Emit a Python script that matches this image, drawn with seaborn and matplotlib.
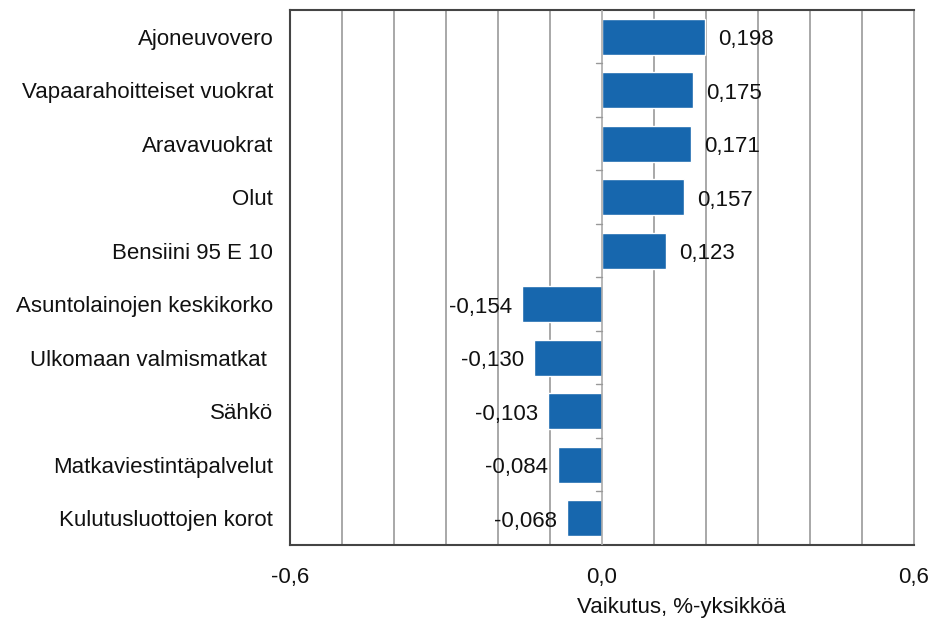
import matplotlib
matplotlib.use("Agg")
import matplotlib.pyplot as plt
import seaborn as sns
import pandas as pd
import numpy as np

categories = ["Ajoneuvovero", "Vapaarahoitteiset vuokrat", "Aravavuokrat", "Olut",
              "Bensiini 95 E 10", "Asuntolainojen keskikorko", "Ulkomaan valmismatkat ",
              "Sähkö", "Matkaviestintäpalvelut", "Kulutusluottojen korot"]
values = [0.198, 0.175, 0.171, 0.157, 0.123, -0.154, -0.130, -0.103, -0.084, -0.068]
xticks = [-0.6, 0.0, 0.6]
xticklabels = ["-0,6", "0,0", "0,6"]
xlabel = "Vaikutus, %-yksikköä"

sns.set_theme(style="white")
plt.rcParams['font.family'] = ['Liberation Sans', 'DejaVu Sans']

df = pd.DataFrame({"cat": categories, "val": values})

fig = plt.figure(figsize=(9.33, 6.23), dpi=100)
ax = fig.add_axes([290/933, 78/623, 624/933, 535/623])

sns.barplot(data=df, y="cat", x="val", orient="h", color="#1767AE", width=0.67,
            saturation=1, ax=ax, zorder=3)

ax.set_xlim(-0.6, 0.6)
ax.set_ylim(len(categories) - 0.5, -0.5)

# vertical gridlines every 0.1
for g in np.arange(-0.5, 0.6, 0.1):
    if abs(g) < 1e-9:
        continue
    ax.axvline(g, color="#999999", lw=1.2, zorder=1)
ax.axvline(0, color="#AAAAAA", lw=1.2, zorder=4)

# category boundary tick marks at zero
for b in np.arange(0.5, len(categories) - 0.5, 1.0):
    ax.plot([-0.012, 0], [b, b], color="#999999", lw=1, zorder=4, clip_on=False)

ax.set_xticks(xticks)
ax.set_xticklabels(xticklabels, fontsize=16, color="#111111")
ax.tick_params(axis="x", length=6, width=1.2, color="#333333", pad=10, direction="out")
ax.tick_params(axis="y", length=0, pad=12, labelsize=16, labelcolor="#111111")
ax.set_ylabel("")
ax.set_xlabel(xlabel, fontsize=16, color="#111111")
ax.xaxis.set_label_coords(0.628, -0.098)

for side in ["left", "bottom", "top"]:
    ax.spines[side].set_color("#444444")
    ax.spines[side].set_linewidth(1.5)
ax.spines["right"].set_color("#999999")
ax.spines["right"].set_linewidth(1.2)

for i, v in enumerate(values):
    txt = f"{v:.3f}".replace(".", ",")
    if v >= 0:
        ax.annotate(txt, (v, i), xytext=(13, -3), textcoords="offset pixels",
                    ha="left", va="center", fontsize=16, color="#111111", zorder=5)
    else:
        ax.annotate(txt, (v, i), xytext=(-10, -3), textcoords="offset pixels",
                    ha="right", va="center", fontsize=16, color="#111111", zorder=5)

fig.savefig("out.png", dpi=100)
